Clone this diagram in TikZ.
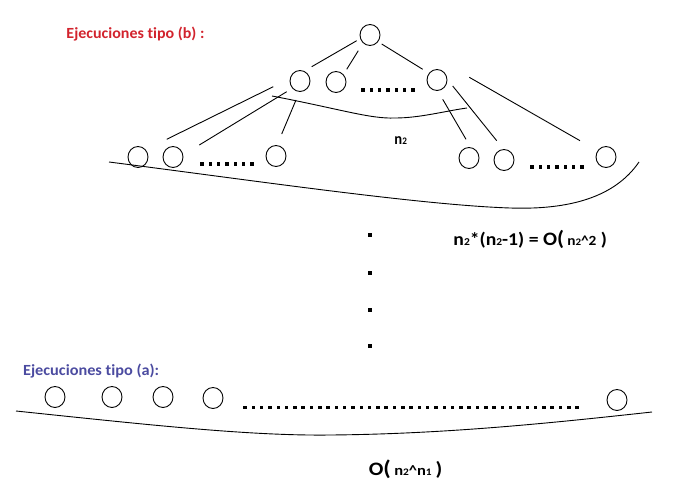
\documentclass[tikz,border=0pt]{standalone}
\usepackage{fontspec}
\usepackage{graphicx}
\setmainfont{Carlito}[Ligatures=NoCommon]
\usetikzlibrary{shapes.geometric}
\definecolor{redlab}{RGB}{210,35,45}
\definecolor{bluelab}{RGB}{75,75,160}
\newcommand{\fs}[2]{{\fontsize{#1}{#1}\selectfont #2}}
\newcommand{\wbox}[2]{\resizebox{#1}{\height}{#2}}
\begin{document}
\begin{tikzpicture}[x=1pt,y=-1pt, line width=0.9pt,
  circ/.style={draw, ellipse, minimum width=20, minimum height=21, inner sep=0pt},
  lab/.style={inner sep=0pt},
  edge/.style={draw, line width=0.9pt}]
\useasboundingbox (0,0) rectangle (676,495);
% labels
\node[lab, text=redlab, anchor=base west, font=\bfseries\fontsize{15.5}{17}\selectfont] (labb) at (66,38) {\wbox{138pt}{Ejecuciones tipo (b) :}};
\node[lab, text=bluelab, anchor=base west, font=\bfseries\fontsize{15.5}{17}\selectfont] (laba) at (22.7,375) {\wbox{136pt}{Ejecuciones tipo (a):}};
% tree nodes
\node[circ] (root) at (370,35) {};
\node[circ] (l2a) at (300,81) {};
\node[circ] (l2b) at (336,82) {};
\node[circ] (l2c) at (437,80) {};
\node[circ] (l3a) at (138,157) {};
\node[circ] (l3b) at (173,157) {};
\node[circ] (l3c) at (276,156) {};
\node[circ] (l3d) at (469,158) {};
\node[circ] (l3e) at (504,160) {};
\node[circ] (l3f) at (606,157) {};
% edges
\draw[edge] ([shift={(-13.3,5.7)}]root.center) -- ([shift={(11.7,-14.3)}]l2a.center);
\draw[edge] ([shift={(-11.7,15.7)}]root.center) -- ([shift={(10.7,-12.7)}]l2b.center);
\draw[edge] ([shift={(11.7,9)}]root.center) -- ([shift={(-14.3,-10.7)}]l2c.center);
\draw[edge] ([shift={(-26.7,5.7)}]l2a.center) -- ([shift={(28.7,-17.7)}]l3a.center);
\draw[edge] ([shift={(-13.3,10.7)}]l2a.center) -- ([shift={(26.3,-12)}]l3b.center);
\draw[edge] ([shift={(-4,19)}]l2a.center) -- ([shift={(5.7,-22)}]l3c.center);
\draw[edge] ([shift={(5.7,19.3)}]l2c.center) -- ([shift={(-3,-18.7)}]l3d.center);
\draw[edge] ([shift={(15.7,6)}]l2c.center) -- ([shift={(-7.3,-19.3)}]l3e.center);
\draw[edge] ([shift={(32.3,-2.7)}]l2c.center) -- ([shift={(-26,-16.3)}]l3f.center);
% n2 curve
\draw (272,96) .. controls (340,109) and (370,119) .. (395,118) .. controls (420,118) and (445,111) .. (467,108);
\node[lab, anchor=base west, font=\bfseries\fontsize{16}{16}\selectfont] (n2) at (394,144.5) {\wbox{12.5pt}{n\fs{10}{2}}};
% top bottom curve
\draw (109,162) .. controls (250,180) and (420,205) .. (510,208) .. controls (570,210) and (615,197) .. (639,162);
% dot rows
\foreach \i in {0,...,6} {
  \fill ({363+8.33*\i-1.7},88.3) rectangle ++(3.5,3.5);
  \fill ({202+8.33*\i-1.7},162.3) rectangle ++(3.5,3.5);
  \fill ({532+8.33*\i-1.7},165.3) rectangle ++(3.5,3.5);
}
% vertical dots
\foreach \yy in {235,273,310,346} {
  \fill (368.3,{\yy-1.7}) rectangle ++(3.5,3.5);
}
% formula
\node[lab, anchor=base west, font=\bfseries] (f1) at (453,245) {\wbox{153.5pt}{\fs{18}{n\fs{10.5}{2}*(n\fs{10.5}{2}-1) = }\fs{19}{O}\fs{20.5}{(}\hspace{3pt}\fs{14}{n\fs{10}{2}\textasciicircum 2}\hspace{4pt}\fs{18}{)}}};
% bottom nodes
\node[circ] (b1) at (55,397) {};
\node[circ] (b2) at (112,397) {};
\node[circ] (b3) at (163,397) {};
\node[circ] (b4) at (213,398) {};
\node[circ] (b5) at (617,400) {};
\foreach \i in {0,...,40} {
  \fill ({245+8.3*\i-1.7},405.6) rectangle ++(3.5,3.5);
}
\draw (16,411) .. controls (150,425) and (250,436) .. (330,435) .. controls (450,434) and (560,422) .. (652,412);
\node[lab, anchor=base west, font=\bfseries] (f2) at (368.3,475) {\wbox{73.7pt}{\fs{19}{O}\fs{21}{(}\hspace{3pt}\fs{14.5}{n\fs{10}{2}\textasciicircum n\fs{10}{1}}\hspace{3.5pt}\fs{19}{)}}};
\end{tikzpicture}
\end{document}
